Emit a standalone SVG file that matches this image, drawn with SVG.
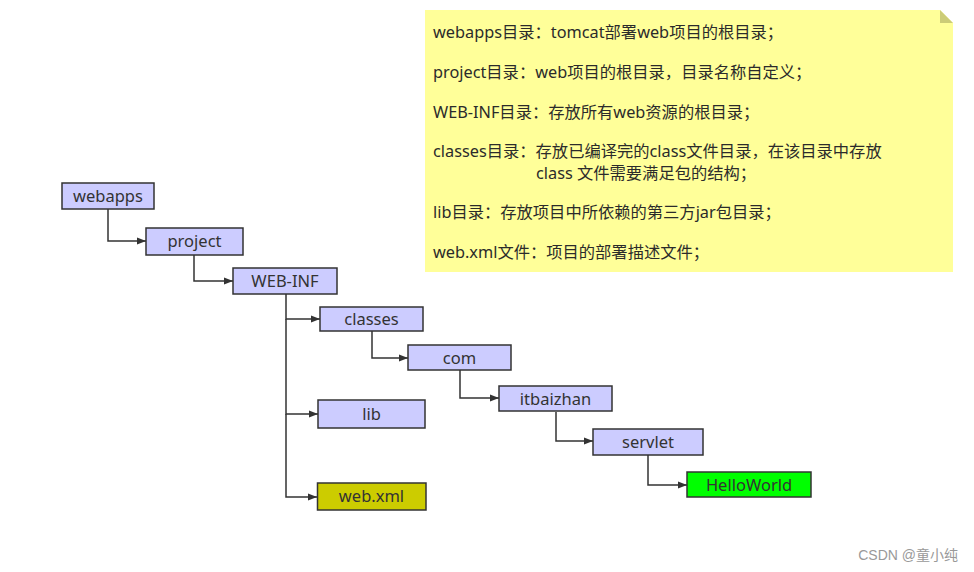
<svg xmlns="http://www.w3.org/2000/svg" width="974" height="572" viewBox="0 0 974 572">
<defs>
<marker id="ah" markerWidth="10" markerHeight="8" refX="9" refY="4" orient="auto" markerUnits="userSpaceOnUse">
<path d="M0,0.5 L9,4 L0,7.5 Z" fill="#333"/>
</marker>
<style>
.n rect{fill:#ccccff;stroke:#333;stroke-width:1.5}
.n text{font-family:"Noto Sans","Open Sans","Noto Sans CJK SC",sans-serif;font-size:16.5px;fill:#333;text-anchor:middle}
.c path{fill:none;stroke:#333;stroke-width:1.5;marker-end:url(#ah)}
.note text{font-family:"Noto Sans","Noto Sans CJK SC",sans-serif;font-size:16.3px;fill:#2b2b2b}
</style>
</defs>
<rect width="974" height="572" fill="#fff"/>
<g id="note" class="note">
<path d="M425,10 L940,10 L953,23 L953,272 L425,272 Z" fill="#ffff99"/>
<path d="M940,10 L953,23 L940,23 Z" fill="#cccc77"/>
<text x="433" y="38">webapps目录：tomcat部署web项目的根目录；</text>
<text x="433" y="78">project目录：web项目的根目录，目录名称自定义；</text>
<text x="433" y="118">WEB-INF目录：存放所有web资源的根目录；</text>
<text x="433" y="157">classes目录：存放已编译完的class文件目录，在该目录中存放</text>
<text x="536" y="178.5">class 文件需要满足包的结构；</text>
<text x="433" y="218">lib目录：存放项目中所依赖的第三方jar包目录；</text>
<text x="433" y="258">web.xml文件：项目的部署描述文件；</text>
</g>
<g id="connectors" class="c">
<path d="M108,209 V241 H146"/>
<path d="M194,255 V281 H233"/>
<path d="M286,294 V319 H320"/>
<path d="M286,319 V414 H318"/>
<path d="M286,414 V497 H317"/>
<path d="M372,331 V358 H408"/>
<path d="M460,370 V398 H499"/>
<path d="M556,412 V441 H593"/>
<path d="M648,455 V485 H687"/>
</g>
<g id="webapps" class="n"><rect x="62" y="183" width="92" height="26"/><text x="108" y="202">webapps</text></g>
<g id="project" class="n"><rect x="146" y="228" width="97" height="27"/><text x="194.5" y="247">project</text></g>
<g id="web-inf" class="n"><rect x="233" y="268" width="104" height="26"/><text x="285" y="287">WEB-INF</text></g>
<g id="classes" class="n"><rect x="320" y="307" width="103" height="24"/><text x="371.5" y="325">classes</text></g>
<g id="com" class="n"><rect x="408" y="345" width="103" height="25"/><text x="459.5" y="364">com</text></g>
<g id="lib" class="n"><rect x="318" y="400" width="107" height="28"/><text x="371.5" y="420">lib</text></g>
<g id="webxml" class="n"><rect x="317.5" y="483" width="108.5" height="27" style="fill:#cccc00"/><text x="371.5" y="502">web.xml</text></g>
<g id="itbaizhan" class="n"><rect x="499" y="386" width="113" height="25"/><text x="555.5" y="405">itbaizhan</text></g>
<g id="servlet" class="n"><rect x="593" y="429" width="110" height="26"/><text x="648" y="448">servlet</text></g>
<g id="helloworld" class="n"><rect x="687" y="472" width="124" height="25" style="fill:#00ff00"/><text x="749" y="491">HelloWorld</text></g>
<text x="958" y="560" text-anchor="end" font-family="'Liberation Sans','Noto Sans CJK SC',sans-serif" font-size="14" fill="#999">CSDN @童小纯</text>
</svg>
